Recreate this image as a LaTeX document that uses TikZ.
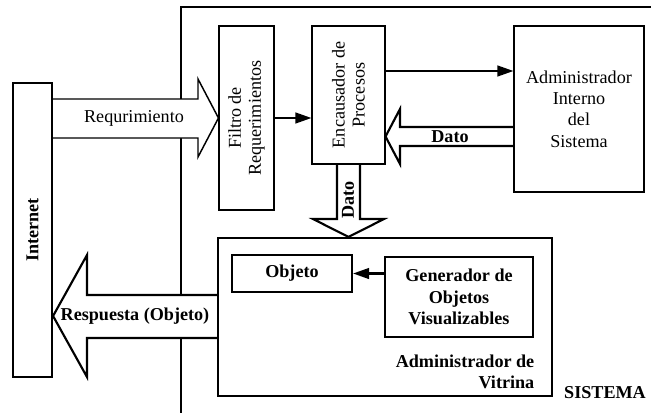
\documentclass[tikz,border=0pt]{standalone}
\usepackage{fontspec}
\setmainfont{Liberation Serif}
\usetikzlibrary{arrows.meta,fit}
\pgfdeclarelayer{frame}
\pgfdeclarelayer{flows}
\pgfsetlayers{frame,flows,main}
\begin{document}
\begin{tikzpicture}[x=0.75pt,y=-0.75pt,
  every node/.style={font=\fontsize{13.6}{16}\selectfont},
  bold/.style={font=\fontsize{13.6}{16}\selectfont\bfseries},
  vtext/.style={rotate=90,align=center,font=\fontsize{13.6}{15}\selectfont},
  thinbox/.style={draw,line width=0.8pt,inner sep=0pt,fill=white},
  thickbox/.style={draw,line width=1.6pt,inner sep=0pt,fill=white},
  blockarrow/.style={draw,line width=1.6pt,fill=white,line join=miter},
  conn/.style={line width=1.6pt,-{Triangle[length=12pt,width=8pt]}}]

\useasboundingbox (0,0) rectangle (651,412);
\clip (0,0) rectangle (651,412);

% boxes
\node[thickbox, fit={(13,83)(52,377)},
      label={[bold,rotate=90]center:Internet}] (internet) {};
\node[thinbox, fit={(219,26)(274,210)},
      label={[vtext]center:Filtro de\\Requerimientos}] (filtro) {};
\node[thinbox, fit={(312,26)(385,164)},
      label={[vtext]center:Encausador de\\Procesos}] (encaus) {};
\node[thinbox, fit={(514,26)(644,192)},
      label={[align=center]center:Administrador\\Interno\\del\\Sistema}] (admin) {};
\node[thickbox, fit={(218,238)(552,396)}] (vitrina) {};
\node[thickbox, fit={(232,255)(352,292)},
      label={[bold]center:Objeto}] (objeto) {};
\node[thickbox, fit={(385,257)(533,337)},
      label={[bold,align=center]center:Generador de\\Objetos\\Visualizables}] (gener) {};

% labels
\node[bold, align=right, anchor=east] (vitlbl) at (539,372) {Administrador de\\Vitrina};
\node[bold] (sislbl) at (605,393) {SISTEMA};

% thin connectors
\draw[conn] (filtro.east) -- (filtro.east -| encaus.west);
\draw[conn] (encaus.east |- 0,71) -- (admin.west |- 0,71);
\draw[conn] (gener.west |- objeto.east) -- (objeto.east);

% block arrows
\begin{pgfonlayer}{flows}
\draw[blockarrow, line width=1.1pt]
  (internet.east |- 0,99) -- (198,99) -- (198,79) -- (filtro.west |- 0,118)
  -- (198,157) -- (198,138) -- (internet.east |- 0,138);
\draw[blockarrow]
  (admin.west |- 0,127) -- (400,127) -- (400,109) -- (encaus.east |- 0,136.5)
  -- (400,164) -- (400,146) -- (admin.west |- 0,146);
\draw[blockarrow]
  (encaus.south -| 337,0) -- (337,219) -- (313,219) -- (encaus.south |- vitrina.north)
  -- (384,219) -- (360,219) -- (encaus.south -| 360,0);
\draw[blockarrow]
  (vitrina.west |- 0,295) -- (87,295) -- (87,255) -- (internet.east |- 0,316)
  -- (87,377) -- (87,338) -- (vitrina.west |- 0,338);
\end{pgfonlayer}
\node (req) at (134,118) {Requrimiento};
\node[bold] (dato1) at (450,137) {Dato};
\node[bold, rotate=90] (dato2) at (348,200) {Dato};
\node[bold] (resp) at (135,316) {Respuesta (Objeto)};

% system frame
\begin{pgfonlayer}{frame}
\draw[line width=1.6pt] (181,420) -- (181,7) -- (660,7);
\end{pgfonlayer}
\end{tikzpicture}
\end{document}
